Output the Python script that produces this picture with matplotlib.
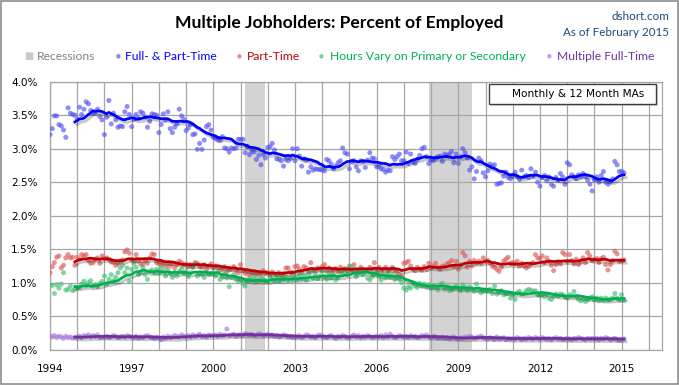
import matplotlib
matplotlib.use('Agg')
import matplotlib.pyplot as plt
import matplotlib.dates as mdates
import matplotlib.patheffects as pe
from matplotlib.patches import Rectangle
import pandas as pd

# monthly data, Jan 1994 - Feb 2015 (percent of employed)
months = pd.date_range('1994-01-01', '2015-02-01', freq='MS')

full_part = [
    3.21, 3.30, 3.49, 3.49, 3.36, 3.34, 3.28, 3.17, 3.61, 3.53, 3.51, 3.50,  # 1994
    3.44, 3.62, 3.51, 3.59, 3.70, 3.67, 3.57, 3.53, 3.53, 3.59, 3.48, 3.43,
    3.21, 3.47, 3.72, 3.37, 3.53, 3.43, 3.32, 3.34, 3.33, 3.55, 3.63, 3.51,
    3.33, 3.44, 3.51, 3.45, 3.55, 3.53, 3.47, 3.32, 3.41, 3.52, 3.51, 3.50,
    3.24, 3.36, 3.52, 3.43, 3.55, 3.30, 3.24, 3.32, 3.37, 3.59, 3.49, 3.44,
    3.27, 3.31, 3.36, 3.21, 3.22, 2.99, 3.08, 2.99, 3.13, 3.33, 3.36, 3.28,  # 1999
    3.17, 3.15, 3.13, 3.12, 3.18, 3.01, 3.00, 2.95, 3.01, 3.00, 3.01, 3.14,
    3.14, 3.14, 2.94, 3.03, 2.91, 2.96, 2.95, 2.84, 2.90, 2.76, 2.91, 2.86,
    3.02, 3.03, 3.08, 2.98, 2.85, 2.84, 2.82, 2.74, 2.84, 2.82, 2.85, 3.00,
    2.82, 3.00, 2.89, 2.74, 2.85, 2.83, 2.65, 2.73, 2.68, 2.70, 2.69, 2.69,
    2.68, 2.67, 2.84, 2.82, 2.77, 2.70, 2.74, 2.79, 2.82, 3.01, 2.94, 2.92,  # 2004
    2.70, 2.81, 2.82, 2.73, 2.67, 2.82, 2.81, 2.72, 2.83, 2.94, 2.86, 2.85,
    2.73, 2.73, 2.70, 2.69, 2.65, 2.68, 2.67, 2.88, 2.84, 2.88, 2.92, 2.82,
    2.82, 2.95, 2.78, 2.92, 2.80, 2.78, 2.84, 2.90, 3.00, 3.02, 2.88, 2.78,
    2.83, 2.82, 2.86, 2.88, 2.89, 2.81, 2.92, 2.90, 2.92, 2.96, 2.79, 2.92,
    2.78, 2.88, 3.00, 2.94, 2.86, 2.68, 2.73, 2.55, 2.66, 2.86, 2.82, 2.64,  # 2009
    2.58, 2.67, 2.77, 2.74, 2.76, 2.47, 2.48, 2.49, 2.59, 2.65, 2.57, 2.55,
    2.60, 2.65, 2.58, 2.54, 2.68, 2.58, 2.60, 2.57, 2.70, 2.59, 2.65, 2.50,
    2.44, 2.57, 2.60, 2.52, 2.58, 2.47, 2.44, 2.57, 2.53, 2.63, 2.58, 2.47,
    2.79, 2.76, 2.61, 2.58, 2.55, 2.61, 2.58, 2.63, 2.58, 2.53, 2.47, 2.37,
    2.53, 2.58, 2.50, 2.60, 2.66, 2.50, 2.47, 2.50, 2.55, 2.81, 2.76, 2.66,  # 2014
    2.66, 2.64,
]

part_time = [
    1.15, 1.24, 1.30, 1.38, 1.40, 1.22, 1.26, 1.37, 1.42, 1.37, 1.38, 1.26,  # 1994
    1.38, 1.35, 1.42, 1.40, 1.42, 1.33, 1.29, 1.30, 1.35, 1.37, 1.29, 1.40,
    1.36, 1.37, 1.35, 1.31, 1.30, 1.26, 1.28, 1.32, 1.34, 1.46, 1.49, 1.44,
    1.34, 1.32, 1.42, 1.32, 1.28, 1.27, 1.32, 1.29, 1.37, 1.43, 1.42, 1.30,
    1.28, 1.27, 1.28, 1.24, 1.29, 1.25, 1.28, 1.22, 1.27, 1.32, 1.30, 1.27,
    1.28, 1.24, 1.27, 1.23, 1.30, 1.29, 1.24, 1.23, 1.27, 1.20, 1.25, 1.28,  # 1999
    1.22, 1.25, 1.24, 1.19, 1.20, 1.24, 1.17, 1.19, 1.20, 1.24, 1.18, 1.15,
    1.27, 1.18, 1.14, 1.17, 1.12, 1.14, 1.15, 1.12, 1.14, 1.15, 1.18, 1.14,
    1.15, 1.12, 1.16, 1.13, 1.12, 1.15, 1.10, 1.14, 1.22, 1.22, 1.16, 1.15,
    1.24, 1.25, 1.20, 1.17, 1.24, 1.22, 1.18, 1.30, 1.19, 1.17, 1.22, 1.20,
    1.24, 1.27, 1.17, 1.22, 1.16, 1.19, 1.21, 1.16, 1.23, 1.19, 1.21, 1.18,  # 2004
    1.25, 1.19, 1.27, 1.20, 1.17, 1.23, 1.20, 1.17, 1.19, 1.23, 1.20, 1.30,
    1.20, 1.23, 1.17, 1.20, 1.23, 1.17, 1.20, 1.23, 1.18, 1.15, 1.12, 1.10,
    1.29, 1.30, 1.32, 1.25, 1.20, 1.18, 1.23, 1.20, 1.19, 1.24, 1.20, 1.29,
    1.22, 1.25, 1.29, 1.23, 1.20, 1.25, 1.24, 1.28, 1.30, 1.33, 1.24, 1.32,
    1.20, 1.27, 1.45, 1.40, 1.23, 1.32, 1.25, 1.33, 1.29, 1.32, 1.29, 1.37,  # 2009
    1.32, 1.33, 1.29, 1.25, 1.23, 1.20, 1.17, 1.23, 1.32, 1.35, 1.38, 1.29,
    1.30, 1.29, 1.32, 1.25, 1.29, 1.25, 1.22, 1.24, 1.28, 1.30, 1.42, 1.37,
    1.36, 1.40, 1.30, 1.37, 1.32, 1.26, 1.18, 1.27, 1.31, 1.28, 1.45, 1.42,
    1.32, 1.42, 1.33, 1.28, 1.35, 1.27, 1.32, 1.37, 1.30, 1.45, 1.40, 1.33,
    1.35, 1.36, 1.30, 1.36, 1.38, 1.27, 1.19, 1.27, 1.33, 1.47, 1.43, 1.32,  # 2014
    1.33, 1.34,
]

hours_vary = [
    0.97, 0.96, 0.84, 0.97, 0.92, 0.98, 1.15, 0.89, 0.90, 0.95, 0.88, 0.90,  # 1994
    0.92, 0.93, 0.98, 1.02, 0.96, 1.00, 1.03, 0.95, 0.97, 0.94, 0.99, 1.02,
    1.10, 0.98, 1.05, 1.12, 1.03, 1.08, 1.15, 1.22, 1.26, 1.15, 1.22, 1.02,
    1.20, 1.29, 1.23, 1.12, 1.15, 1.23, 1.12, 1.05, 1.17, 1.19, 1.15, 1.20,
    1.14, 1.22, 1.17, 1.10, 1.19, 1.14, 1.08, 1.15, 1.10, 1.17, 1.20, 1.14,
    1.17, 1.09, 1.15, 1.24, 1.29, 1.10, 1.14, 1.12, 1.08, 1.15, 1.12, 1.14,  # 1999
    1.14, 1.10, 1.17, 1.05, 1.08, 1.15, 1.07, 0.94, 1.08, 1.12, 1.05, 1.02,
    1.04, 0.99, 0.95, 1.02, 1.05, 1.04, 1.08, 1.02, 1.04, 1.07, 1.05, 1.03,
    1.02, 1.08, 1.05, 1.03, 1.09, 1.02, 1.07, 1.05, 1.09, 1.04, 1.08, 1.05,
    1.08, 1.05, 1.12, 1.06, 1.10, 1.04, 1.12, 1.16, 1.07, 1.12, 1.06, 1.10,
    1.17, 1.09, 1.05, 1.14, 1.07, 1.12, 1.04, 1.08, 1.17, 1.13, 1.20, 1.12,  # 2004
    1.22, 1.24, 1.17, 1.09, 1.14, 1.20, 1.12, 1.17, 1.07, 1.04, 1.09, 1.12,
    1.15, 1.09, 1.04, 1.12, 1.07, 1.14, 1.08, 1.12, 1.05, 1.09, 1.05, 1.00,
    0.92, 0.89, 0.94, 0.92, 0.99, 0.95, 0.93, 0.99, 0.95, 0.98, 0.94, 0.97,
    0.92, 0.95, 0.93, 0.89, 0.97, 0.99, 0.90, 0.94, 0.88, 0.89, 0.92, 0.95,
    0.92, 0.88, 0.97, 0.92, 0.88, 0.93, 0.91, 0.87, 0.98, 0.88, 0.85, 0.87,  # 2009
    0.89, 0.87, 0.90, 0.84, 0.95, 0.83, 0.85, 0.88, 0.82, 0.83, 0.84, 0.77,
    0.82, 0.75, 0.85, 0.87, 0.83, 0.84, 0.88, 0.90, 0.89, 0.87, 0.88, 0.82,
    0.80, 0.82, 0.79, 0.83, 0.77, 0.75, 0.79, 0.83, 0.80, 0.83, 0.82, 0.79,
    0.77, 0.82, 0.80, 0.87, 0.79, 0.75, 0.73, 0.75, 0.72, 0.74, 0.77, 0.79,
    0.74, 0.77, 0.73, 0.77, 0.74, 0.77, 0.74, 0.75, 0.77, 0.84, 0.77, 0.74,  # 2014
    0.82, 0.74,
]

multiple_ft = [
    0.20, 0.19, 0.21, 0.18, 0.20, 0.19, 0.17, 0.20, 0.18, 0.19, 0.17, 0.18,  # 1994
    0.19, 0.20, 0.18, 0.21, 0.20, 0.22, 0.19, 0.21, 0.20, 0.22, 0.18, 0.19,
    0.19, 0.20, 0.18, 0.19, 0.21, 0.20, 0.18, 0.19, 0.20, 0.19, 0.21, 0.20,
    0.19, 0.18, 0.20, 0.17, 0.19, 0.18, 0.20, 0.21, 0.19, 0.18, 0.17, 0.19,
    0.18, 0.15, 0.19, 0.17, 0.20, 0.18, 0.19, 0.21, 0.20, 0.19, 0.22, 0.20,
    0.20, 0.21, 0.19, 0.22, 0.20, 0.21, 0.23, 0.20, 0.21, 0.19, 0.22, 0.21,  # 1999
    0.21, 0.22, 0.20, 0.23, 0.21, 0.22, 0.31, 0.21, 0.22, 0.23, 0.20, 0.22,
    0.22, 0.21, 0.24, 0.23, 0.22, 0.23, 0.21, 0.22, 0.24, 0.23, 0.21, 0.22,
    0.23, 0.21, 0.22, 0.20, 0.21, 0.19, 0.20, 0.22, 0.21, 0.19, 0.20, 0.18,
    0.20, 0.19, 0.21, 0.18, 0.20, 0.22, 0.21, 0.19, 0.20, 0.18, 0.21, 0.22,
    0.20, 0.19, 0.18, 0.20, 0.21, 0.19, 0.17, 0.20, 0.19, 0.21, 0.20, 0.18,  # 2004
    0.19, 0.20, 0.22, 0.19, 0.21, 0.18, 0.20, 0.19, 0.21, 0.20, 0.18, 0.19,
    0.20, 0.19, 0.21, 0.18, 0.22, 0.19, 0.23, 0.20, 0.18, 0.19, 0.21, 0.20,
    0.19, 0.20, 0.18, 0.21, 0.19, 0.20, 0.18, 0.19, 0.21, 0.20, 0.22, 0.19,
    0.18, 0.20, 0.19, 0.17, 0.18, 0.19, 0.17, 0.18, 0.16, 0.18, 0.19, 0.17,
    0.16, 0.18, 0.17, 0.19, 0.18, 0.20, 0.19, 0.17, 0.18, 0.19, 0.20, 0.18,  # 2009
    0.17, 0.16, 0.18, 0.17, 0.15, 0.19, 0.16, 0.17, 0.18, 0.15, 0.17, 0.16,
    0.17, 0.16, 0.18, 0.17, 0.15, 0.17, 0.16, 0.18, 0.17, 0.16, 0.18, 0.17,
    0.16, 0.18, 0.17, 0.16, 0.17, 0.15, 0.17, 0.18, 0.16, 0.17, 0.15, 0.16,
    0.17, 0.16, 0.15, 0.17, 0.16, 0.18, 0.17, 0.16, 0.15, 0.17, 0.16, 0.17,
    0.16, 0.17, 0.15, 0.17, 0.16, 0.18, 0.17, 0.15, 0.16, 0.17, 0.15, 0.14,  # 2014
    0.15, 0.16,
]

recessions = [('2001-03-01', '2001-11-30'), ('2007-12-01', '2009-06-30')]
label_years = [1994, 1997, 2000, 2003, 2006, 2009, 2012, 2015]

# name, values, dot colour, line colour
series = [
    ('Full- & Part-Time', full_part, '#5252f2', '#0000ff'),
    ('Part-Time', part_time, '#dd5a5a', '#c00000'),
    ('Hours Vary on Primary or Secondary', hours_vary, '#3fbf72', '#00b050'),
    ('Multiple Full-Time', multiple_ft, '#a678d8', '#7030a0'),
]

W, H = 679, 385
fig = plt.figure(figsize=(W / 100, H / 100), dpi=100)


def fx(px):
    return px / W


def fy(py):
    return 1 - py / H


ax = fig.add_axes([fx(50), fy(349.7), fx(661.7 - 50), (349.7 - 81.7) / H])

for start, end in recessions:
    ax.axvspan(pd.Timestamp(start), pd.Timestamp(end), color='#d3d3d3', lw=0, zorder=0)

shadow = [pe.SimpleLineShadow(offset=(1.5, -2.0), shadow_color='black', alpha=0.22),
          pe.Normal()]
for name, vals, dot_c, line_c in series:
    s = pd.Series(vals, index=months)
    ax.scatter(months, s, s=13, color=dot_c, alpha=0.65, edgecolors='none', zorder=3)
    ma = s.rolling(12).mean()
    ax.plot(months, ma, color=line_c, lw=2.0, zorder=4, path_effects=shadow)

ax.set_ylim(0, 4.0)
ax.set_yticks([i * 0.5 for i in range(9)])
ax.set_yticklabels(['%.1f%%' % (i * 0.5) for i in range(9)])
ax.set_xlim(pd.Timestamp('1994-01-01'), pd.Timestamp('2016-06-21'))
ax.set_xticks([pd.Timestamp('%d-01-01' % y) for y in label_years])
ax.xaxis.set_major_formatter(mdates.DateFormatter('%Y'))
ax.xaxis.set_minor_locator(mdates.YearLocator(1, month=1, day=1))

ax.grid(True, which='both', color='#a6a6a6', lw=0.9, zorder=1)
ax.set_axisbelow(True)
for sp in ax.spines.values():
    sp.set_color('#a6a6a6')
    sp.set_linewidth(0.9)
ax.tick_params(which='both', length=0, labelsize=7.5, colors='black')
ax.tick_params(axis='y', pad=9)
ax.tick_params(axis='x', pad=10)

# title and source
fig.text(0.5, fy(23), 'Multiple Jobholders: Percent of Employed', ha='center', va='center',
         fontsize=12.6, fontweight='bold', family='Lato')
fig.text(fx(669), fy(16), 'dshort.com', ha='right', va='center', fontsize=8.4,
         color='#1f497d', family='Lato')
fig.text(fx(669), fy(32), 'As of February 2015', ha='right', va='center', fontsize=8.4,
         color='#1f497d', family='Lato')

# legend row
fig.text(fx(29), fy(56), '\u25a0', ha='center', va='center', fontsize=7, color='#c8c8c8')
fig.text(fx(37), fy(56), 'Recessions', ha='left', va='center', fontsize=8.7,
         color='#808080', family='Lato')
legend_pos = [(118, 125), (239, 247), (321, 330), (549, 557)]
for (name, vals, dot_c, line_c), (dx, tx) in zip(series, legend_pos):
    fig.text(fx(dx), fy(56), '\u25cf', ha='center', va='center', fontsize=4, color=dot_c, alpha=0.7)
    fig.text(fx(tx), fy(56), name, ha='left', va='center', fontsize=8.7, color=line_c,
             family='Lato')

# note box
fig.patches.append(Rectangle((fx(491), fy(106)), fx(167), 20 / H, transform=fig.transFigure,
                             facecolor='#b0b0b0', edgecolor='none', alpha=0.5, zorder=5))
fig.patches.append(Rectangle((fx(489), fy(104)), fx(167), 20 / H, transform=fig.transFigure,
                             facecolor='white', edgecolor='#404040', lw=1, zorder=6))
fig.text(fx(578), fy(94), 'Monthly & 12 Month MAs', ha='center', va='center', fontsize=7.6,
         zorder=7)

# outer border
fig.patches.append(Rectangle((0.0008, 0.0015), 0.998, 0.997, transform=fig.transFigure,
                             facecolor='none', edgecolor='#8c8c8c', lw=1.2))

fig.savefig('out.png', dpi=100)
